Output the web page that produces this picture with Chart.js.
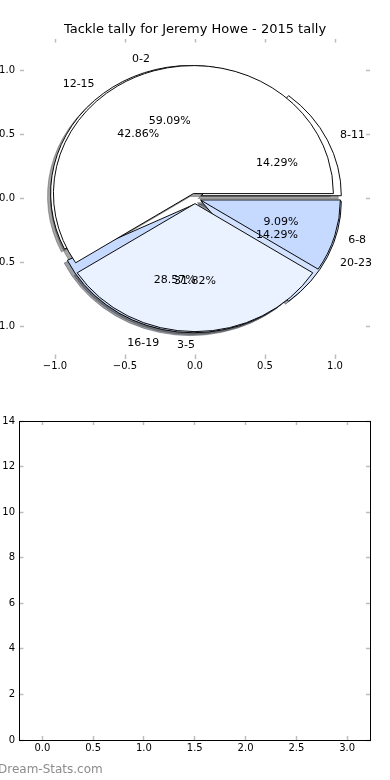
<!DOCTYPE html>
<html>
<head>
<meta charset="utf-8">
<title>Tackle tally for Jeremy Howe - 2015 tally</title>
<script src="https://cdn.jsdelivr.net/npm/chart.js@4.4.1/dist/chart.umd.min.js"></script>
<style>
  html, body { margin: 0; padding: 0; background: #fff; }
  body { width: 390px; height: 780px; position: relative; overflow: hidden; }
  canvas { position: absolute; left: 0; }
  #pie-chart { top: 0; }
  #panel-chart { top: 390px; }
  .watermark { position: absolute; left: -2px; top: 762px; font: 12px 'DejaVu Sans', sans-serif; color: #8c8c8c; white-space: nowrap; }
</style>
</head>
<body>
<canvas id="pie-chart" width="390" height="390"></canvas>
<canvas id="panel-chart" width="390" height="390"></canvas>
<div class="watermark">Dream-Stats.com</div>
<script>
'use strict';

// two tallies drawn one over the other on the same axes
const earlyBands = ['0-2', '3-5', '6-8'];
const earlyTackles = [13, 7, 2];
const earlyColors = ['#FFFFFF', '#EAF1FF', '#C6D9FF'];

const lateBands = ['8-11', '12-15', '16-19', '20-23'];
const lateTackles = [1, 3, 2, 1];
const lateColors = ['#FFFFFF', '#FFFFFF', '#C6D9FF', '#D2E2FF'];

const pieTicks = [-1, -0.5, 0, 0.5, 1];
const panelXTicks = [0, 0.5, 1, 1.5, 2, 2.5, 3];
const panelYTicks = [0, 2, 4, 6, 8, 10, 12, 14];

const FONT = "'DejaVu Sans', sans-serif";
const EARLY_EXPLODE = 0.04;
const LATE_EXPLODE = 0.05;
const SHADOW_OFFSET = 0.022;

const oneDecimal = v => (v < 0 ? '\u2212' : '') + Math.abs(v).toFixed(1);

function shadowOf(hex) {
  const n = parseInt(hex.slice(1), 16);
  const r = (n >> 16) & 255, g = (n >> 8) & 255, b = n & 255;
  return `rgba(${Math.round(r * 0.3)},${Math.round(g * 0.3)},${Math.round(b * 0.3)},0.5)`;
}

// axis with small grey inward ticks, size forced so the plot box lands where it should
function frameAxis(o) {
  return {
    type: 'linear',
    axis: o.axis,
    position: o.position,
    min: o.min,
    max: o.max,
    afterBuildTicks: s => { s.ticks = o.ticks.map(v => ({ value: v })); },
    afterFit: s => { if (o.axis === 'x') s.height = o.size; else s.width = o.size; },
    border: { display: o.frame, color: '#000', width: 1 },
    grid: { drawOnChartArea: false, drawTicks: true, tickLength: -4, tickColor: '#bdbdbd', tickWidth: 1.5 },
    ticks: {
      display: !!o.fmt,
      padding: o.pad || 0,
      color: '#000',
      font: { family: FONT, size: 10 },
      callback: o.fmt || (() => ''),
      autoSkip: false,
      maxRotation: 0,
    },
  };
}

const overlaidPies = {
  id: 'overlaidPies',
  beforeDatasetsDraw(chart) {
    const ctx = chart.ctx;
    const xs = chart.scales.x, ys = chart.scales.y;
    const cx = xs.getPixelForValue(0), cy = ys.getPixelForValue(0);
    const rx = xs.getPixelForValue(1) - cx;
    const sy = (cy - ys.getPixelForValue(1)) / rx;

    // dataset 1 (late) sits underneath dataset 0 (early)
    const wedges = [];
    [1, 0].forEach(di => {
      const ds = chart.data.datasets[di];
      const total = ds.data.reduce((a, b) => a + b, 0);
      chart.getDatasetMeta(di).data.forEach((arc, j) => {
        arc.x = cx; arc.y = cy;
        arc.innerRadius = 0; arc.outerRadius = rx;
        wedges.push({
          arc,
          mid: (arc.startAngle + arc.endAngle) / 2,
          shift: ds.explode * rx,
          label: ds.bandLabels[j],
          pct: (100 * ds.data[j] / total).toFixed(2) + '%',
        });
      });
    });

    ctx.save();
    ctx.translate(cx, cy);
    ctx.scale(1, sy);
    ctx.translate(-cx, -cy);

    const sh = SHADOW_OFFSET * rx;
    wedges.forEach(w => {
      const a = w.arc;
      const shade = shadowOf(a.options.backgroundColor);
      const ghost = new Chart.ArcElement({
        x: a.x, y: a.y,
        startAngle: a.startAngle, endAngle: a.endAngle, circumference: a.circumference,
        innerRadius: 0, outerRadius: a.outerRadius,
        options: Object.assign({}, a.options, { backgroundColor: shade, borderColor: shade }),
      });
      ctx.save();
      ctx.translate(Math.cos(w.mid) * w.shift - sh, Math.sin(w.mid) * w.shift + sh);
      ghost.draw(ctx);
      ctx.restore();
    });

    wedges.forEach(w => {
      ctx.save();
      ctx.translate(Math.cos(w.mid) * w.shift, Math.sin(w.mid) * w.shift);
      w.arc.draw(ctx);
      ctx.restore();
    });
    ctx.restore();

    ctx.save();
    ctx.fillStyle = '#000';
    ctx.font = `11px ${FONT}`;
    ctx.textBaseline = 'middle';
    wedges.forEach(w => {
      const c = Math.cos(w.mid), s = Math.sin(w.mid);
      const lx = cx + c * (w.shift + 1.1 * rx);
      const ly = cy + s * (w.shift + 1.1 * rx) * sy;
      ctx.textAlign = lx > cx ? 'left' : 'right';
      ctx.fillText(w.label, lx, ly + 1);
      ctx.textAlign = 'center';
      ctx.fillText(w.pct, cx + c * (w.shift + 0.6 * rx), cy + s * (w.shift + 0.6 * rx) * sy + 1);
    });
    ctx.restore();
    return false;
  },
};

// matplotlib starts at 3 o'clock going anticlockwise: reverse order, start at 90deg
function pieDataset(bands, tallies, colors, explode) {
  return {
    data: tallies.slice().reverse(),
    backgroundColor: colors.slice().reverse(),
    bandLabels: bands.slice().reverse(),
    explode,
    rotation: 90,
    borderColor: '#000',
    borderWidth: 1,
    offset: 0,
  };
}

new Chart(document.getElementById('pie-chart'), {
  type: 'pie',
  data: {
    datasets: [
      pieDataset(earlyBands, earlyTackles, earlyColors, EARLY_EXPLODE),
      pieDataset(lateBands, lateTackles, lateColors, LATE_EXPLODE),
    ],
  },
  options: {
    responsive: false,
    animation: false,
    events: [],
    devicePixelRatio: 1,
    layout: { padding: 0 },
    plugins: {
      legend: { display: false },
      tooltip: { enabled: false },
      title: {
        display: true,
        text: 'Tackle tally for Jeremy Howe - 2015 tally',
        color: '#000',
        font: { family: FONT, size: 13, weight: 'normal', lineHeight: 1 },
        padding: { top: 23.5, bottom: 0 },
      },
    },
    scales: {
      x: frameAxis({ axis: 'x', position: 'bottom', min: -1.25, max: 1.25, ticks: pieTicks, size: 31.5, fmt: oneDecimal, pad: 6, frame: false }),
      x2: frameAxis({ axis: 'x', position: 'top', min: -1.25, max: 1.25, ticks: pieTicks, size: 2, frame: false }),
      y: frameAxis({ axis: 'y', position: 'left', min: -1.25, max: 1.25, ticks: pieTicks, size: 20, fmt: oneDecimal, pad: 9, frame: false }),
      y2: frameAxis({ axis: 'y', position: 'right', min: -1.25, max: 1.25, ticks: pieTicks, size: 20, frame: false }),
    },
  },
  plugins: [overlaidPies],
});

// empty second panel
new Chart(document.getElementById('panel-chart'), {
  type: 'scatter',
  data: { datasets: [] },
  options: {
    responsive: false,
    animation: false,
    events: [],
    devicePixelRatio: 1,
    layout: { padding: 0 },
    plugins: { legend: { display: false }, tooltip: { enabled: false } },
    scales: {
      x: frameAxis({ axis: 'x', position: 'bottom', min: -0.225, max: 3.225, ticks: panelXTicks, size: 40, fmt: oneDecimal, pad: 6, frame: true }),
      x2: frameAxis({ axis: 'x', position: 'top', min: -0.225, max: 3.225, ticks: panelXTicks, size: 31, frame: true }),
      y: frameAxis({ axis: 'y', position: 'left', min: 0, max: 14, ticks: panelYTicks, size: 19.5, fmt: v => String(v), pad: 8.5, frame: true }),
      y2: frameAxis({ axis: 'y', position: 'right', min: 0, max: 14, ticks: panelYTicks, size: 20, frame: true }),
    },
  },
});
</script>
</body>
</html>
